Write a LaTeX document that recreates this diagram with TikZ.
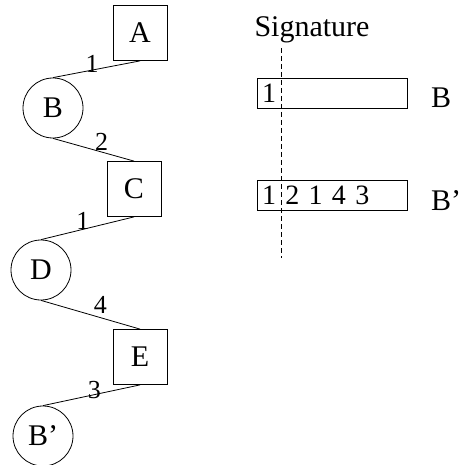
\documentclass[tikz,border=0pt]{standalone}
\usepackage{fontspec}
\setmainfont{Liberation Serif}

\tikzset{
  sqnode/.style={draw, line width=0.8pt, minimum width=54pt, minimum height=55pt, inner sep=0pt, font=\fontsize{30}{32}\selectfont},
  rdnode/.style={draw, circle, line width=0.8pt, minimum size=60pt, inner sep=0pt, font=\fontsize{30}{32}\selectfont},
  elabel/.style={inner sep=0pt, font=\fontsize{26}{28}\selectfont},
  sigbox/.style={draw, line width=0.8pt, minimum height=30pt, text width=140pt, inner xsep=5pt, inner ysep=0pt, align=left, font=\fontsize{28}{30}\selectfont},
  txt/.style={inner sep=0pt, font=\fontsize{30}{32}\selectfont}
}

\begin{document}
\begin{tikzpicture}[x=1pt, y=-1pt]
	\useasboundingbox (0,0) rectangle (460,465);

	% 左边的路径
	\node[sqnode] (A) at (140,33) {A};
	\node[rdnode] (B) at (53,108) {B};
	\node[sqnode] (C) at (134,189) {C};
	\node[rdnode] (D) at (41,270) {D};
	\node[sqnode] (E) at (140,357) {E};
	\node[rdnode] (Bp) at (43,436) {B'};

	% 连线和权值
	\draw[line width=0.8pt] (A.south) -- node[elabel, pos=0.55, yshift=6pt] {1} (B.north);
	\draw[line width=0.8pt] (B.south) -- node[elabel, pos=0.6, yshift=10pt] {2} (C.north);
	\draw[line width=0.8pt] (C.south) -- node[elabel, pos=0.55, yshift=8pt] {1} (D.north);
	\draw[line width=0.8pt] (D.south) -- node[elabel, pos=0.6, yshift=13pt] {4} (E.north);
	\draw[line width=0.8pt] (E.south) -- node[elabel, pos=0.47, yshift=5pt] {3} (Bp.north);

	% 右边的签名
	\node[txt] (sig) at (312,30) {Signature};
	\coordinate (sigtop) at (281,48);
	\coordinate (sigbot) at (281,258);

	\node[sigbox] (sB) at (332,93) {1};
	\node[sigbox] (sBp) at (332,195) {1 2 1 4 3};
	\node[txt, anchor=base west] (lB) at (431,108) {B};
	\node[txt, anchor=base west] (lBp) at (431,210) {B'};

	\draw[dashed, dash pattern=on 5pt off 3pt, line width=0.7pt] (sigtop) -- (sigbot);
\end{tikzpicture}
\end{document}
